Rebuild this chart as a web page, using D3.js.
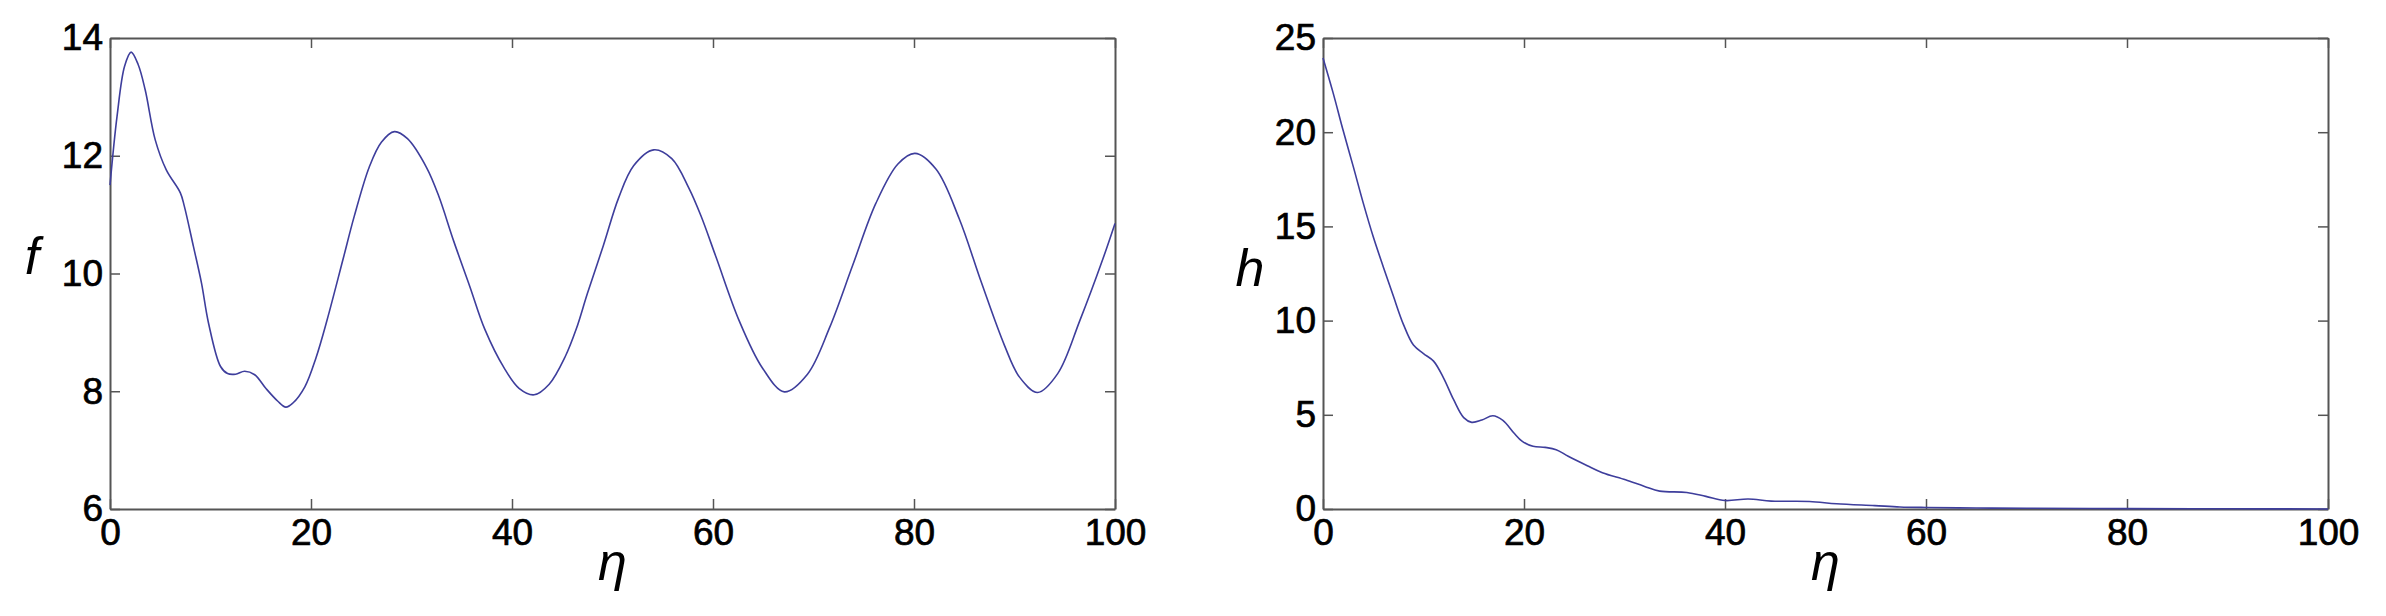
<!DOCTYPE html>
<html>
<head>
<meta charset="utf-8">
<script src="https://cdn.jsdelivr.net/npm/d3@7"></script>
<style>
  body { margin: 0; background: #fff; }
  svg text { font-family: "Liberation Sans", Arial, sans-serif; }
</style>
</head>
<body>
<div id="app"></div>
<script>
// f(eta)
const etaF = [0, 0.7, 1.45, 2.1, 2.8, 3.5, 4.5, 5.6, 7.0, 7.4, 8.3, 9.1, 9.8, 11.0, 11.7, 12.5, 13.4, 14.4, 15.5, 16.7, 17.5, 18.2, 19.4, 20.5, 21.6, 23.2, 24.3, 25.8, 27.0, 28.3, 29.6, 31.5, 32.7, 34.2, 35.8, 37.3, 39.2, 40.7, 42.2, 43.7, 45.3, 46.4, 47.5, 49.1, 50.6, 52.1, 54.1, 55.9, 57.6, 58.8, 60.3, 62.6, 64.9, 67.1, 69.4, 71.6, 73.9, 76.2, 78.4, 80.1, 82.2, 84.5, 86.7, 89.0, 90.5, 92.3, 94.3, 96.5, 98.8, 100];
const fVals = [11.5, 12.67, 13.52, 13.76, 13.55, 13.12, 12.27, 11.76, 11.37, 11.14, 10.46, 9.84, 9.16, 8.42, 8.3, 8.29, 8.34, 8.28, 8.05, 7.83, 7.73, 7.8, 8.08, 8.57, 9.21, 10.25, 10.97, 11.81, 12.23, 12.41, 12.29, 11.8, 11.32, 10.55, 9.78, 9.05, 8.4, 8.05, 7.94, 8.12, 8.59, 9.06, 9.66, 10.48, 11.28, 11.83, 12.1, 11.95, 11.45, 10.98, 10.28, 9.2, 8.4, 7.99, 8.29, 9.08, 10.14, 11.19, 11.86, 12.04, 11.77, 10.93, 9.85, 8.78, 8.24, 7.98, 8.3, 9.2, 10.25, 10.85];

// h(eta)
const etaH = [0, 1, 2, 3, 4, 5, 6, 7, 8, 9, 10, 11, 12, 13, 14, 14.8, 15.8, 16.9, 17.9, 19.0, 19.8, 20.9, 22.1, 23.2, 24.4, 26.3, 27.8, 30.1, 32.0, 33.5, 36.2, 38.1, 40.0, 42.3, 44.6, 48.4, 51.1, 54.9, 57.4, 60, 65, 70, 80, 90, 100];
const hVals = [23.94, 22.1, 20.1, 18.2, 16.25, 14.45, 12.85, 11.3, 9.8, 8.7, 8.25, 7.85, 6.95, 5.8, 4.85, 4.6, 4.72, 4.95, 4.7, 4.03, 3.6, 3.33, 3.27, 3.15, 2.8, 2.3, 1.93, 1.55, 1.2, 0.95, 0.88, 0.67, 0.45, 0.53, 0.42, 0.4, 0.28, 0.18, 0.11, 0.08, 0.05, 0.04, 0.02, 0.01, 0.0];

const xTicks = [0, 20, 40, 60, 80, 100];
const fTicks = [6, 8, 10, 12, 14];
const hTicks = [0, 5, 10, 15, 20, 25];

const W = 2386, H = 616;
const svg = d3.select("#app").append("svg")
  .attr("width", W)
  .attr("height", H)
  .style("background-color", "#fff");

function panel(left, right, xs, ys, yDomain, yTicks, yName, nameX, nameY) {
  const top = 38, bottom = 509;
  const x = d3.scaleLinear().domain([0, 100]).range([left, right]);
  const y = d3.scaleLinear().domain(yDomain).range([bottom, top]);

  const g = svg.append("g");

  // frame with inward ticks on all sides (matlab style)
  g.append("g")
    .attr("transform", "translate(0," + bottom + ")")
    .call(d3.axisBottom(x).tickValues(xTicks).tickSizeInner(-10).tickSizeOuter(0).tickPadding(10));
  g.append("g")
    .attr("transform", "translate(0," + top + ")")
    .call(d3.axisTop(x).tickValues(xTicks).tickSizeInner(-10).tickSizeOuter(0).tickFormat(""));
  g.append("g")
    .attr("transform", "translate(" + left + ",0)")
    .call(d3.axisLeft(y).tickValues(yTicks).tickSizeInner(-10).tickSizeOuter(0).tickPadding(7));
  g.append("g")
    .attr("transform", "translate(" + right + ",0)")
    .call(d3.axisRight(y).tickValues(yTicks).tickSizeInner(-10).tickSizeOuter(0).tickFormat(""));

  g.selectAll(".tick text")
    .attr("font-size", 37)
    .attr("fill", "#000")
    .attr("stroke", "#000")
    .attr("stroke-width", 0.7);
  g.selectAll(".domain").attr("stroke", "#555").attr("stroke-width", 2);
  g.selectAll(".tick line").attr("stroke", "#555").attr("stroke-width", 1.5);

  const line = d3.line()
    .x(d => x(d[0]))
    .y(d => y(d[1]))
    .curve(d3.curveCatmullRom);

  g.append("path")
    .datum(d3.zip(xs, ys))
    .attr("d", line)
    .attr("fill", "none")
    .attr("stroke", "#3e3e9c")
    .attr("stroke-width", 1.6);

  g.append("text")
    .attr("x", (left + right) / 2)
    .attr("y", 580)
    .attr("text-anchor", "middle")
    .attr("font-size", 52)
    .attr("font-style", "italic")
    .text("η");

  g.append("text")
    .attr("x", nameX)
    .attr("y", nameY)
    .attr("text-anchor", "middle")
    .attr("font-size", 52)
    .attr("font-style", "italic")
    .text(yName);
}

panel(110, 1115, etaF, fVals, [6, 14], fTicks, "f", 32, 274);
panel(1323, 2328, etaH, hVals, [0, 25], hTicks, "h", 1250, 286);
</script>
</body>
</html>
